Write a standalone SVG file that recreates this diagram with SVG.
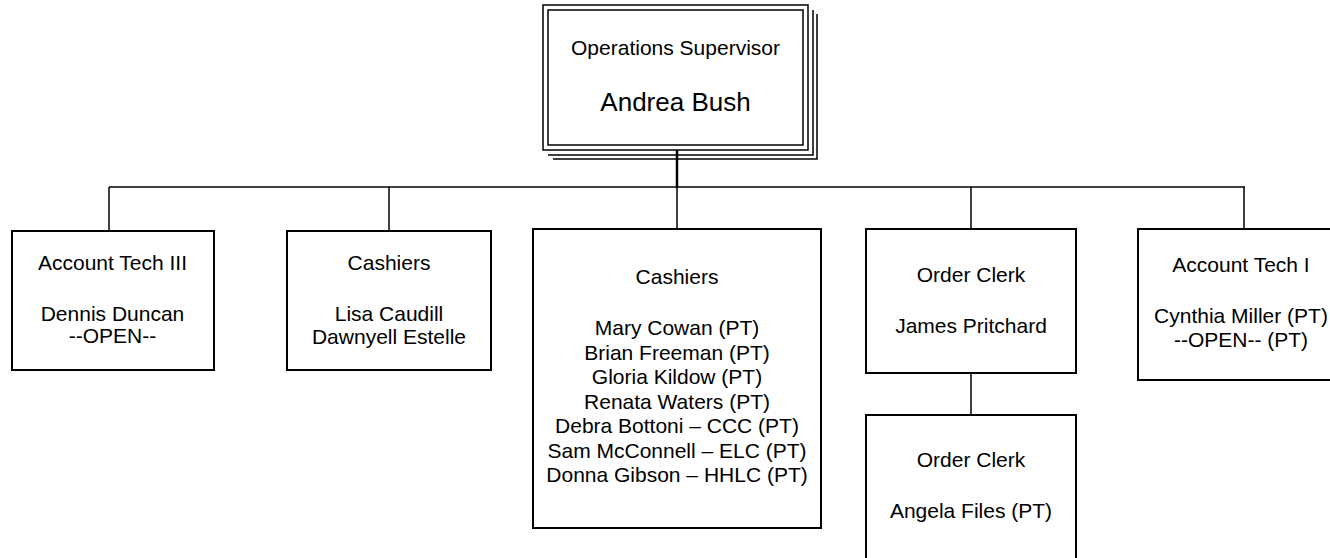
<svg xmlns="http://www.w3.org/2000/svg" width="1330" height="558" viewBox="0 0 1330 558">
<style>
.bx{fill:#fff;stroke:#000;stroke-width:2}
.ln{fill:none;stroke:#000;stroke-width:1.5}
text{font-family:"Liberation Sans",Arial,sans-serif;font-size:21px;fill:#000;text-anchor:middle}
.big{font-size:26px}
</style>
<rect width="1330" height="558" fill="#fff"/>
<g id="connectors">
<line class="ln" x1="677" y1="150" x2="677" y2="188" style="stroke-width:2.5"/>
<line class="ln" x1="109" y1="187" x2="1245" y2="187"/>
<line class="ln" x1="109" y1="187" x2="109" y2="231"/>
<line class="ln" x1="389" y1="187" x2="389" y2="231"/>
<line class="ln" x1="677" y1="187" x2="677" y2="229"/>
<line class="ln" x1="971" y1="187" x2="971" y2="229"/>
<line class="ln" x1="1244" y1="187" x2="1244" y2="229"/>
<line class="ln" x1="971" y1="373" x2="971" y2="415"/>
</g>
<g id="supervisor">
<polyline class="ln" points="813,10 813,155 548,155"/>
<polyline class="ln" points="817,14 817,159 553,159"/>
<rect x="543" y="5" width="265" height="145" fill="#fff" stroke="#000" stroke-width="1.5"/>
<rect x="548" y="10" width="255" height="135" fill="none" stroke="#000" stroke-width="1.5"/>
<text x="675.5" y="55">Operations Supervisor</text>
<text class="big" x="675.5" y="111">Andrea Bush</text>
</g>
<g id="accounttech3">
<rect class="bx" x="12" y="231" width="202" height="139"/>
<text x="112.5" y="270">Account Tech III</text>
<text x="112.5" y="321">Dennis Duncan</text>
<text x="112.5" y="343">--OPEN--</text>
</g>
<g id="cashiers1">
<rect class="bx" x="287" y="231" width="204" height="139"/>
<text x="389" y="270">Cashiers</text>
<text x="389" y="321">Lisa Caudill</text>
<text x="389" y="344">Dawnyell Estelle</text>
</g>
<g id="cashiers2">
<rect class="bx" x="533" y="229" width="288" height="299"/>
<text x="677" y="284">Cashiers</text>
<text x="677" y="335">Mary Cowan (PT)</text>
<text x="677" y="359.5">Brian Freeman (PT)</text>
<text x="677" y="384">Gloria Kildow (PT)</text>
<text x="677" y="408.5">Renata Waters (PT)</text>
<text x="677" y="433">Debra Bottoni – CCC (PT)</text>
<text x="677" y="457.5">Sam McConnell – ELC (PT)</text>
<text x="677" y="482">Donna Gibson – HHLC (PT)</text>
</g>
<g id="orderclerk1">
<rect class="bx" x="866" y="229" width="210" height="144"/>
<text x="971" y="282">Order Clerk</text>
<text x="971" y="333">James Pritchard</text>
</g>
<g id="orderclerk2">
<rect class="bx" x="866" y="415" width="210" height="160"/>
<text x="971" y="467">Order Clerk</text>
<text x="971" y="518">Angela Files (PT)</text>
</g>
<g id="accounttech1">
<rect class="bx" x="1138" y="229" width="210" height="151"/>
<text x="1241" y="272">Account Tech I</text>
<text x="1241" y="323">Cynthia Miller (PT)</text>
<text x="1241" y="347">--OPEN-- (PT)</text>
</g>
</svg>
